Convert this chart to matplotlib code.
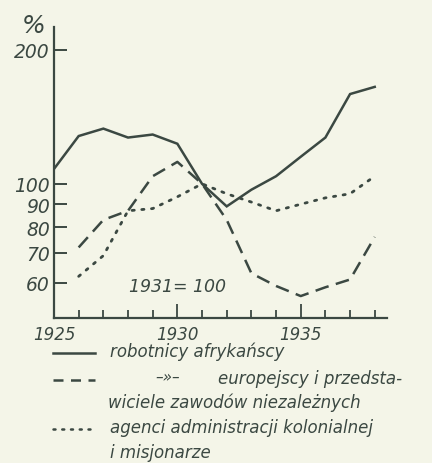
"""
Wskaźniki zatrudnienia w koloniach, 1925-1938 (1931 = 100)
"""

import matplotlib.pyplot as plt
from matplotlib.lines import Line2D
from matplotlib.ticker import FixedLocator, NullLocator

# dane
lata = list(range(1925, 1939))
robotnicy = [108, 128, 133, 127, 129, 123, 100, 89, 97, 104, 115, 127, 159, 165]
lata_2 = list(range(1926, 1939))
europejscy = [72, 83, 87, 104, 112, 100, 83, 63, 59, 56, 58.6, 61, 76]
agenci = [62, 69, 87, 88, 93.5, 100, 95, 91, 87, 90, 93, 95, 104]

yticks = [60, 70, 80, 90, 100, 200]
xlabels = [1925, 1930, 1935]

TLO = '#f4f5e8'
TUSZ = '#3b4842'

fig = plt.figure(figsize=(4.32, 4.64), dpi=100, facecolor=TLO)
ax = fig.add_axes([0.125, 0.3125, 0.771, 0.6275])
ax.set_facecolor(TLO)

ax.plot(lata, robotnicy, color=TUSZ, lw=1.8, solid_joinstyle='miter')
ax.plot(lata_2, europejscy, color=TUSZ, lw=1.8, linestyle=(0, (5.5, 3)))
ax.plot(lata_2, agenci, color=TUSZ, lw=2.0, linestyle=(0, (0.8, 2.7)),
        dash_capstyle='round')

ax.set_yscale('log')
ax.set_ylim(50, 225)
ax.set_xlim(1925, 1938.5)

for s in ['top', 'right']:
    ax.spines[s].set_visible(False)
for s in ['left', 'bottom']:
    ax.spines[s].set_color(TUSZ)
    ax.spines[s].set_linewidth(1.6)

ax.yaxis.set_major_locator(FixedLocator(yticks))
ax.yaxis.set_minor_locator(NullLocator())
ax.set_yticklabels([str(v) for v in yticks], fontsize=13.5, style='italic', color=TUSZ)
ax.tick_params(axis='y', direction='in', length=9, width=1.4, color=TUSZ, pad=3)

ax.set_xticks(lata)
ax.set_xticklabels([str(r) if r in xlabels else '' for r in lata],
                   fontsize=12, style='italic', color=TUSZ)
ax.tick_params(axis='x', direction='in', length=6, width=1.3, color=TUSZ, pad=5)
for t, r in zip(ax.xaxis.get_major_ticks(), lata):
    if r in (1930, 1935):
        t.tick1line.set_markersize(10)

ax.text(1928.05, 58.9, '1931= 100', fontsize=12.5, style='italic', color=TUSZ,
        va='center', ha='left')
fig.text(0.077, 0.945, '%', fontsize=18, style='italic', color=TUSZ, ha='center', va='center')

# legenda
wiersze = [
    (352, '-', 'robotnicy afrykańscy', 110),
    (379, (0, (4, 3)), 'europejscy i przedsta-', 218),
    (403, None, 'wiciele zawodów niezależnych', 108),
    (428, (0, (0.8, 2.7)), 'agenci administracji kolonialnej', 110),
    (453, None, 'i misjonarze', 110),
]
W, H = 432, 464
for y, styl, tekst, x in wiersze:
    if styl is not None:
        fig.add_artist(Line2D([53 / W, 95 / W], [1 - (y + 2) / H] * 2, color=TUSZ,
                              lw=1.8, linestyle=styl, dash_capstyle='round'
                              if styl != '-' and styl[1][0] < 1 else 'butt'))
    fig.text(x / W, 1 - y / H, tekst, fontsize=12, style='italic', color=TUSZ,
             va='center', ha='left')
fig.text(155 / W, 1 - 378 / H, '–»–', fontsize=11, style='italic', color=TUSZ,
         va='center', ha='left')

plt.savefig('out.png', dpi=100, facecolor=TLO)
